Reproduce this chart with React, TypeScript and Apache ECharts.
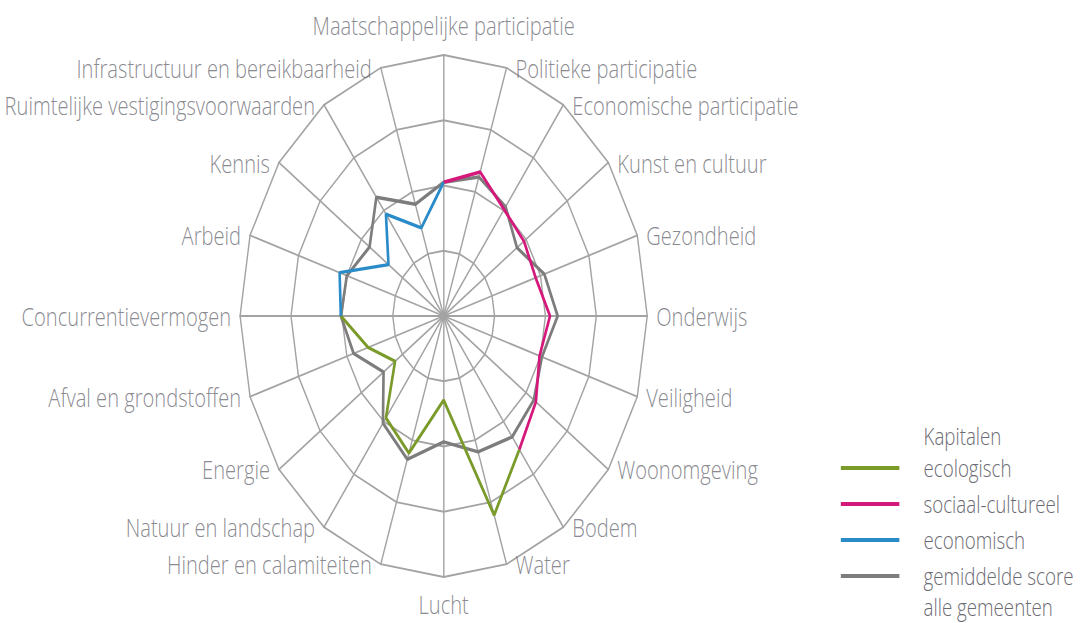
import React, { useEffect, useRef } from "react";
import * as echarts from "echarts";

// Indicators, clockwise from the top
const indicators = [
  "Maatschappelijke participatie",
  "Politieke participatie",
  "Economische participatie",
  "Kunst en cultuur",
  "Gezondheid",
  "Onderwijs",
  "Veiligheid",
  "Woonomgeving",
  "Bodem",
  "Water",
  "Lucht",
  "Hinder en calamiteiten",
  "Natuur en landschap",
  "Energie",
  "Afval en grondstoffen",
  "Concurrentievermogen",
  "Arbeid",
  "Kennis",
  "Ruimtelijke vestigingsvoorwaarden",
  "Infrastructuur en bereikbaarheid",
];

const gemiddeldeScore = [2.05, 2.24, 2.07, 1.78, 2.08, 2.24, 2.03, 2.19, 2.29, 2.19, 1.93, 2.31, 2.03, 1.46, 1.86, 2.02, 2.0, 1.8, 2.25, 1.8];
const sociaalCultureel = [2.05, 2.32, 2.02, 1.95, 1.9, 2.09, 1.98, 2.24, 2.53, null, null, null, null, null, null, null, null, null, null, null];
const ecologisch = [null, null, null, null, null, null, null, null, 2.53, 3.21, 1.29, 2.21, 1.93, 1.18, 1.56, 2.02, null, null, null, null];
const economisch = [2.05, null, null, null, null, null, null, null, null, null, null, null, null, null, null, 2.02, 2.15, 1.34, 1.93, 1.42];

const legendNames = ["ecologisch", "sociaal-cultureel", "economisch", "gemiddelde score"];
const legendTitle = "Kapitalen";
const legendExtraLine = "alle gemeenten";
const maxValue = 4;

const SQUASH = 0.78;
const W = Math.round(1086 / SQUASH);
const H = 623;
const CX = 568.8;
const CY = 316;
const R = 261;

const FONT = '"Open Sans", Lato, "Noto Sans", sans-serif';
const FONT_SIZE = 25.8;
const LEGEND_FONT_SIZE = 24;
const TEXT_COLOR = "#6b6b73";
const GRID_COLOR = "#a3a3a3";

const step = 360 / indicators.length;

function toPolar(vals: (number | null)[]) {
  const pts: any[] = vals.map((v, k) => [v == null ? "-" : v, k * step]);
  pts.push([vals[0] == null ? "-" : vals[0], 360]);
  return pts;
}

function labelFor(k: number) {
  const n = indicators.length;
  if (k === 0) return { position: "top", distance: 17 };
  if (k === n / 2) return { position: "bottom", distance: 13 };
  const side = k < n / 2 ? "right" : "left";
  const lower = k >= 7 && k <= 13;
  return { position: side, distance: 11, offset: [0, lower ? 2 : 0] };
}

// radar lays indicators out counter-clockwise, so reverse order after the first
const radarOrder = [0, ...indicators.map((_, i) => i).slice(1).reverse()];

function buildOption(): any {
  const lineSeries = (name: string, vals: (number | null)[], color: string, z: number) => ({
    type: "line",
    name,
    coordinateSystem: "polar",
    data: toPolar(vals),
    symbol: "none",
    color,
    lineStyle: { color, width: 3.4 },
    connectNulls: false,
    z,
    silent: true,
  });

  const legendFont = `300 ${LEGEND_FONT_SIZE}px ${FONT}`;

  return {
    animation: false,
    backgroundColor: "#ffffff",
    radar: {
      center: [CX, CY],
      radius: R,
      startAngle: 90,
      splitNumber: 4,
      shape: "polygon",
      indicator: radarOrder.map((i) => ({ name: indicators[i], min: 0, max: maxValue })),
      axisName: { show: false },
      axisLine: { show: true, lineStyle: { color: GRID_COLOR, width: 1.8 } },
      splitLine: { show: true, lineStyle: { color: GRID_COLOR, width: 1.8 } },
      splitArea: { show: false },
      axisTick: { show: false },
      axisLabel: { show: false },
    },
    polar: { center: [CX, CY], radius: R },
    angleAxis: { type: "value", min: 0, max: 360, startAngle: 90, clockwise: true, show: false },
    radiusAxis: { type: "value", min: 0, max: maxValue, show: false },
    legend: {
      data: legendNames,
      orient: "vertical",
      left: 1078,
      top: 455,
      padding: 0,
      icon: "rect",
      itemWidth: 75,
      itemHeight: 4,
      itemGap: 10,
      selectedMode: false,
      textStyle: {
        fontSize: LEGEND_FONT_SIZE,
        color: TEXT_COLOR,
        fontFamily: FONT,
        fontWeight: 300,
        lineHeight: 26,
        padding: [0, 0, 0, 26],
      },
    },
    graphic: [
      {
        type: "text",
        x: 1184,
        y: 436,
        style: { text: legendTitle, fill: TEXT_COLOR, font: legendFont, lineHeight: 26, verticalAlign: "middle", align: "left" },
      },
      {
        type: "text",
        x: 1184,
        y: 607,
        style: { text: legendExtraLine, fill: TEXT_COLOR, font: legendFont, lineHeight: 26, verticalAlign: "middle", align: "left" },
      },
    ],
    series: [
      lineSeries(legendNames[3], gemiddeldeScore, "#7d7d7d", 2),
      lineSeries(legendNames[0], ecologisch, "#7a9a2a", 3),
      lineSeries(legendNames[1], sociaalCultureel, "#d4197b", 3),
      lineSeries(legendNames[2], economisch, "#2a8bc9", 3),
      {
        type: "scatter",
        name: "labels",
        coordinateSystem: "polar",
        symbol: "circle",
        symbolSize: 1,
        silent: true,
        itemStyle: { color: "rgba(0,0,0,0)" },
        label: {
          show: true,
          formatter: "{b}",
          color: TEXT_COLOR,
          fontSize: FONT_SIZE,
          fontFamily: FONT,
          fontWeight: 300,
        },
        labelLayout: { hideOverlap: false },
        data: indicators.map((name, k) => ({
          name,
          value: [maxValue, k * step],
          label: labelFor(k),
        })),
      },
    ],
  };
}

export default function App() {
  const ref = useRef<HTMLDivElement>(null);
  useEffect(() => {
    if (!ref.current) return;
    const chart = echarts.init(ref.current, null, { renderer: "svg" });
    chart.setOption(buildOption());
    return () => chart.dispose();
  }, []);
  return (
    <div
      style={{
        position: "fixed",
        left: 0,
        top: 0,
        width: 1086,
        height: H,
        overflow: "hidden",
        background: "#fff",
      }}
    >
      <div
        ref={ref}
        style={{ width: W, height: H, transform: `scaleX(${SQUASH})`, transformOrigin: "0 0" }}
      />
    </div>
  );
}
